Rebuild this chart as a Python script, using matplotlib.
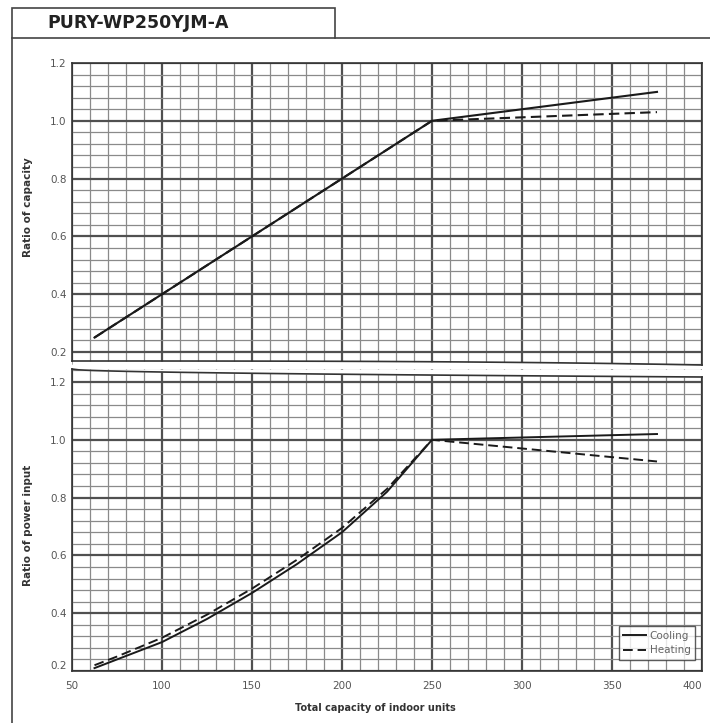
import numpy as np
import matplotlib
matplotlib.use("Agg")
import matplotlib.pyplot as plt
from matplotlib.lines import Line2D
from matplotlib.patches import Rectangle

# ---- data ----
title = "PURY-WP250YJM-A"
x_ticks = [50, 100, 150, 200, 250, 300, 350, 400]
y_ticks = [0.2, 0.4, 0.6, 0.8, 1.0, 1.2]

cap_x = [62.5, 250, 375]
cap_cooling = [0.25, 1.0, 1.10]
cap_heating = [0.25, 1.0, 1.03]

pow_x = [62.5, 75, 100, 125, 150, 175, 200, 225, 250, 375]
pow_cooling = [0.21, 0.24, 0.30, 0.38, 0.47, 0.57, 0.68, 0.82, 1.0, 1.02]
pow_heating = [0.22, 0.25, 0.315, 0.395, 0.485, 0.585, 0.695, 0.83, 1.0, 0.925]

W, H = 710, 723
fig = plt.figure(figsize=(W / 100, H / 100), dpi=100)
fig.patch.set_facecolor("white")

def fx(px):
    return px / W

def fy(py):
    return 1 - py / H

left_px, right_px = 72, 702
ax1 = fig.add_axes([fx(left_px), fy(365), (right_px - left_px) / W, (365 - 63) / H])
ax2 = fig.add_axes([fx(left_px), fy(671), (right_px - left_px) / W, (671 - 369) / H])

major_c = "#505050"
minor_c = "#8a8a8a"

def style(ax, ylim):
    ax.set_xlim(50, 400)
    ax.set_ylim(*ylim)
    ax.set_axisbelow(True)
    for v in np.arange(50, 401, 10):
        major = (v % 50 == 0)
        ax.axvline(v, color=major_c if major else minor_c, lw=1.6 if major else 0.9, zorder=0.5)
    for v in np.arange(0.12, 1.28, 0.04):
        major = abs(round(v / 0.2) * 0.2 - v) < 1e-6
        if ylim[0] - 1e-9 <= v <= ylim[1] + 1e-9:
            ax.axhline(v, color=major_c if major else minor_c, lw=1.6 if major else 0.9, zorder=0.5)
    ax.set_yticks(y_ticks)
    ax.set_yticklabels([f"{t:.1f}" for t in y_ticks])
    ax.tick_params(length=0, labelsize=7.5, labelcolor="#555555", pad=4)
    for s in ax.spines.values():
        s.set_color("#333333")
        s.set_linewidth(1.2)

style(ax1, (0.2 - 13 / 289, 1.2))
style(ax2, (0.2, 1.2 + 13 / 289))
ax1.set_xticks(x_ticks)
ax1.set_xticklabels([])
ax2.set_xticks(x_ticks)
ax2.set_xticklabels([str(t) for t in x_ticks])
ax2.tick_params(axis="x", pad=7)
xl = ax2.get_xticklabels()
xl[-1].set_horizontalalignment("right")
yl = ax2.get_yticklabels()
yl[0].set_verticalalignment("bottom")

# wavy break edges
t = np.linspace(0, 1, 100)
xs = 50 + 350 * t
ax1.spines["bottom"].set_visible(False)
y_edge1 = 361 + 4 * t ** 3
y_edge1_data = 1.2 - (y_edge1 - 63) / 289
ax1.fill_between(xs, ax1.get_ylim()[0], y_edge1_data, color="white", zorder=1.5, lw=0)
ax1.plot(xs, y_edge1_data, color="#333333", lw=1.2, zorder=3, clip_on=False)
ax1.spines["left"].set_bounds(y_edge1_data[0], 1.2)

ax2.spines["top"].set_visible(False)
y_edge2 = 369 + 8 * np.sqrt(t)
y_edge2_data = 1.2 + (382 - y_edge2) / 289
ax2.fill_between(xs, y_edge2_data, ax2.get_ylim()[1], color="white", zorder=1.5, lw=0)
ax2.plot(xs, y_edge2_data, color="#333333", lw=1.2, zorder=3, clip_on=False)
ax2.spines["right"].set_bounds(0.2, y_edge2_data[-1])

# data lines
ax1.plot(cap_x, cap_cooling, color="#1a1a1a", lw=1.5, zorder=4, label="Cooling")
ax1.plot(cap_x, cap_heating, color="#1a1a1a", lw=1.5, ls=(0, (5, 2.5)), zorder=4, label="Heating")
ax2.plot(pow_x, pow_cooling, color="#1a1a1a", lw=1.4, zorder=4, label="Cooling")
ax2.plot(pow_x, pow_heating, color="#1a1a1a", lw=1.4, ls=(0, (5, 2.5)), zorder=4, label="Heating")

leg = ax2.legend(loc="lower right", bbox_to_anchor=(0.989, 0.036), fontsize=7.5, frameon=True,
                 fancybox=False, edgecolor="#333333", handlelength=2.2, handletextpad=0.3,
                 borderpad=0.45, labelspacing=0.45, borderaxespad=0)
for txt in leg.get_texts():
    txt.set_color("#666666")
leg.get_frame().set_linewidth(1.0)
leg.set_zorder(6)

# axis labels
fig.text(fx(28), fy(207), "Ratio of capacity", rotation=90, ha="center", va="center",
         fontsize=7.5, fontweight="bold", color="#333333")
fig.text(fx(28), fy(525), "Ratio of power input", rotation=90, ha="center", va="center",
         fontsize=7.5, fontweight="bold", color="#333333")
fig.text(fx(375), fy(708), "Total capacity of indoor units", ha="center", va="center",
         fontsize=7, fontweight="bold", color="#333333")

# title box and outer frame
fig.add_artist(Rectangle((fx(12), fy(38)), (335 - 12) / W, 30 / H, transform=fig.transFigure,
                         fill=False, edgecolor="#444444", lw=1.2))
fig.add_artist(Line2D([fx(12), fx(12)], [fy(38), fy(723)], transform=fig.transFigure,
                      color="#444444", lw=1.2))
fig.add_artist(Line2D([fx(335), fx(710)], [fy(38), fy(38)], transform=fig.transFigure,
                      color="#444444", lw=1.2))
fig.text(fx(47), fy(23), title, ha="left", va="center", fontsize=12.5, fontweight="bold",
         color="#222222")

fig.savefig("out.png", dpi=100, facecolor="white")
